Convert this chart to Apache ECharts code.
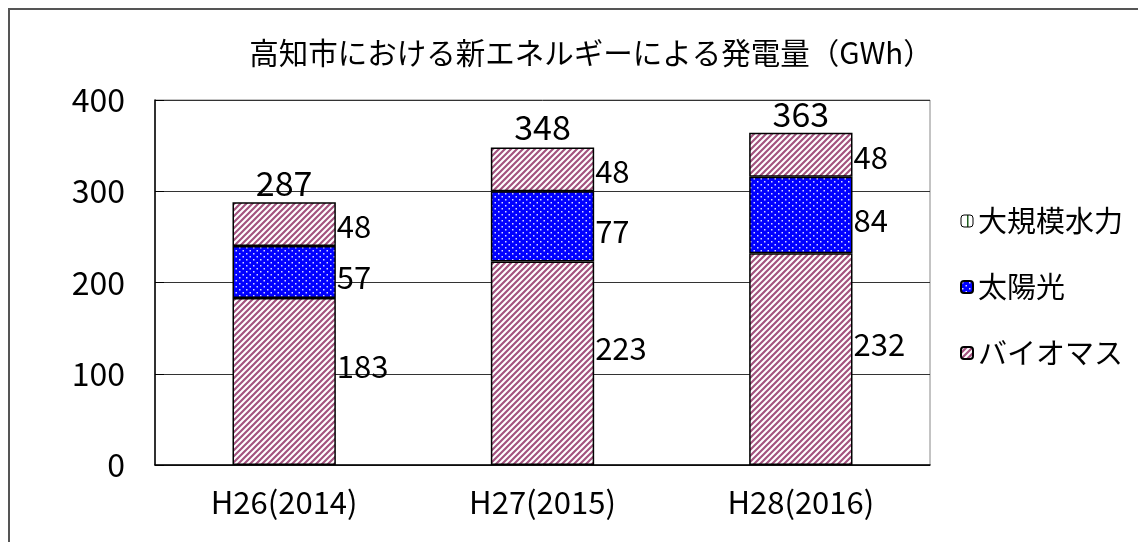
<!DOCTYPE html>
<html>
<head>
<meta charset="utf-8">
<script src="https://cdn.jsdelivr.net/npm/echarts@6/dist/echarts.min.js"></script>
<style>
  html, body { margin: 0; padding: 0; background: #fff; }
  #chart { width: 1138px; height: 542px; }
</style>
</head>
<body>
<div id="chart"></div>
<script>
// 高知市の新エネルギー発電量 (GWh)
const categories = ['H26(2014)', 'H27(2015)', 'H28(2016)'];
const biomass = [183, 223, 232];   // バイオマス
const solar = [57, 77, 84];        // 太陽光
const hydro = [48, 48, 48];        // 大規模水力
const totals = [287, 348, 363];    // 合計
const yTicks = [0, 100, 200, 300, 400];

const FONT = '"Noto Sans CJK JP", "Noto Sans", sans-serif';

// hatched fill: diagonal plum stripes
function stripePattern() {
  const c = document.createElement('canvas');
  c.width = 6; c.height = 6;
  const g = c.getContext('2d');
  g.fillStyle = '#ffffff';
  g.fillRect(0, 0, 6, 6);
  g.strokeStyle = '#a3537f';
  g.lineWidth = 2.2;
  g.beginPath();
  g.moveTo(-1, 7); g.lineTo(7, -1);
  g.moveTo(-4, 4); g.lineTo(4, -4);
  g.moveTo(2, 10); g.lineTo(10, 2);
  g.stroke();
  return { image: c, repeat: 'repeat' };
}
// blue fill with small white dots
function dotPattern() {
  const c = document.createElement('canvas');
  c.width = 7; c.height = 6;
  const g = c.getContext('2d');
  g.fillStyle = '#0000ff';
  g.fillRect(0, 0, 7, 6);
  g.fillStyle = '#d8d8ff';
  g.fillRect(1, 1, 1.5, 1.5);
  g.fillRect(4.5, 4, 1.5, 1.5);
  return { image: c, repeat: 'repeat' };
}
// white fill with a thin green vertical line (legend key of 大規模水力)
function hydroKey() {
  const c = document.createElement('canvas');
  c.width = 12; c.height = 12;
  const g = c.getContext('2d');
  g.fillStyle = '#ffffff';
  g.fillRect(0, 0, 12, 12);
  g.fillStyle = '#1f5f1f';
  g.fillRect(6, 0, 1.5, 12);
  return { image: c, repeat: 'repeat' };
}

const stripes = stripePattern();
const dots = dotPattern();

const chart = echarts.init(document.getElementById('chart'), null, { renderer: 'canvas' });

const labelBase = {
  show: true,
  position: 'right',
  distance: 1,
  color: '#000',
  fontSize: 31,
  fontFamily: FONT
};

chart.setOption({
  animation: false,
  textStyle: { fontFamily: FONT },
  graphic: [
    {
      type: 'rect',
      shape: { x: 9, y: 9, width: 1200, height: 600 },
      style: { fill: 'none', stroke: '#555', lineWidth: 2 },
      z: 0
    },
    {
      type: 'text',
      x: 591, y: 53,
      style: {
        text: '高知市における新エネルギーによる発電量（GWh）',
        fontSize: 29.5, fontFamily: FONT, fill: '#000',
        align: 'center', verticalAlign: 'middle'
      }
    }
  ],
  grid: {
    left: 155, right: 208, top: 100, bottom: 77,
    show: true, borderColor: '#888', borderWidth: 1, backgroundColor: 'transparent'
  },
  legend: {
    orient: 'vertical',
    left: 955, top: 201,
    itemWidth: 12, itemHeight: 12, itemGap: 36,
    textStyle: { fontSize: 29, fontFamily: FONT, color: '#000', lineHeight: 30 },
    data: [
      { name: '大規模水力', itemStyle: { color: hydroKey(), borderColor: '#000', borderWidth: 1 } },
      { name: '太陽光' },
      { name: 'バイオマス' }
    ]
  },
  xAxis: {
    type: 'category',
    data: categories,
    axisLine: { lineStyle: { color: '#000', width: 1.5 } },
    axisTick: { inside: true, length: 9, lineStyle: { color: '#000' } },
    axisLabel: { fontSize: 31, color: '#000', margin: 22, fontFamily: FONT }
  },
  yAxis: {
    type: 'value',
    min: yTicks[0], max: yTicks[yTicks.length - 1], interval: 100,
    axisLine: { show: true, lineStyle: { color: '#000', width: 1.5 } },
    axisTick: { show: true, inside: true, length: 9, lineStyle: { color: '#000' } },
    splitLine: { lineStyle: { color: '#333', width: 1 } },
    axisLabel: { fontSize: 32, color: '#000', margin: 30, fontFamily: FONT }
  },
  series: [
    {
      name: 'バイオマス', type: 'bar', stack: 'total', barWidth: '40%',
      data: biomass,
      itemStyle: { color: stripes, borderColor: '#000', borderWidth: 1.5 },
      label: Object.assign({}, labelBase, { offset: [0, -15] })
    },
    {
      name: '太陽光', type: 'bar', stack: 'total',
      data: solar,
      itemStyle: { color: dots, borderColor: '#000', borderWidth: 1.5 },
      label: Object.assign({}, labelBase, { offset: [0, 5] })
    },
    {
      name: '大規模水力', type: 'bar', stack: 'total',
      data: hydro,
      itemStyle: { color: stripes, borderColor: '#000', borderWidth: 1.5 },
      label: Object.assign({}, labelBase, { offset: [0, 2] })
    },
    {
      name: '合計', type: 'scatter',
      data: totals,
      symbolSize: 0,
      silent: true,
      itemStyle: { opacity: 1, color: '#000' },
      label: {
        show: true, position: 'inside', offset: [0, -20],
        color: '#000', fontSize: 34, fontFamily: FONT
      }
    }
  ]
});
</script>
</body>
</html>
